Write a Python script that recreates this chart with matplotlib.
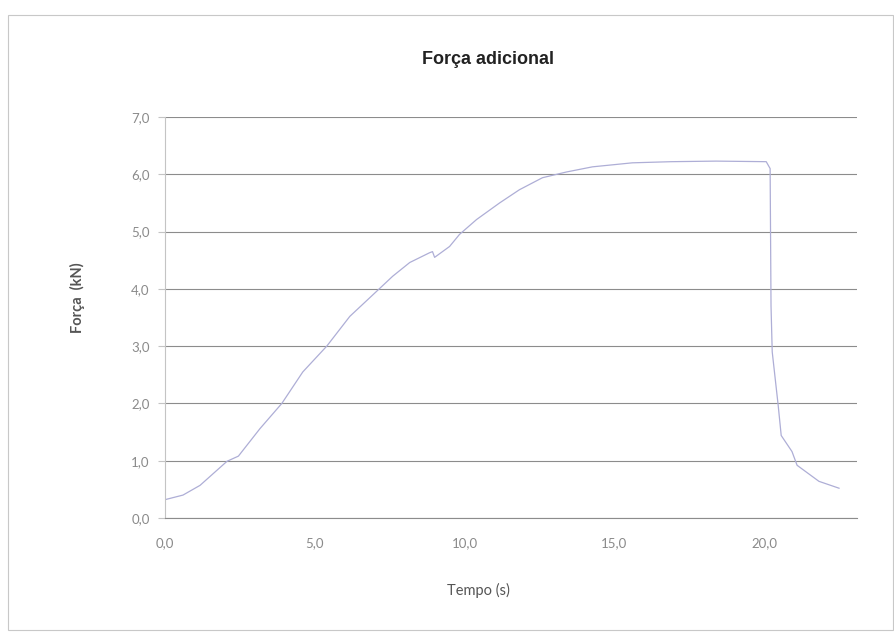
import matplotlib
matplotlib.use("Agg")
import matplotlib.pyplot as plt
from matplotlib.ticker import FuncFormatter
from matplotlib.patches import Rectangle

# Data
tempo_s = [0.0, 0.6, 1.17, 2.07, 2.45, 3.17, 3.9, 4.6, 5.4, 6.17, 7.07, 7.6, 8.17,
           8.83, 8.93, 9.0, 9.5, 9.83, 10.4, 11.17, 11.83, 12.6, 13.4, 14.27, 15.6,
           16.9, 18.4, 20.07, 20.2, 20.23, 20.27, 20.47, 20.57, 20.93, 21.1, 21.83, 22.5]
forca_kN = [0.32, 0.4, 0.57, 0.99, 1.08, 1.56, 2.0, 2.55, 3.0, 3.52, 3.96, 4.22, 4.46,
            4.63, 4.65, 4.55, 4.74, 4.95, 5.21, 5.5, 5.73, 5.94, 6.04, 6.13, 6.2,
            6.22, 6.23, 6.22, 6.1, 3.7, 2.9, 1.96, 1.44, 1.16, 0.92, 0.64, 0.52]
x_ticks = [0, 5, 10, 15, 20]
y_ticks = [0, 1, 2, 3, 4, 5, 6, 7]
titulo = "Força adicional"
x_label = "Tempo (s)"
y_label = "Força  (kN)"

W, H = 895, 636
fig = plt.figure(figsize=(W / 100, H / 100), dpi=100)
fig.patch.set_facecolor("white")

# outer chart border
fig.patches.append(Rectangle((8 / W, 1 - 630 / H), (893 - 8) / W, (630 - 15) / H,
                             transform=fig.transFigure, fill=False,
                             edgecolor="#c8c8c8", linewidth=0.8))

left, right, top, bottom = 165, 857, 117, 518
ax = fig.add_axes([left / W, 1 - bottom / H, (right - left) / W, (bottom - top) / H])
ax.set_xlim(0, 23.1)
ax.set_ylim(0, 7)

ax.plot(tempo_s, forca_kN, color="#aeaed6", linewidth=0.9)

ax.set_xticks(x_ticks)
ax.set_yticks(y_ticks)
fmt = FuncFormatter(lambda v, p: f"{v:.1f}".replace(".", ","))
ax.xaxis.set_major_formatter(fmt)
ax.yaxis.set_major_formatter(fmt)
ax.yaxis.grid(True, color="#8c8c8c", linewidth=0.8)
ax.xaxis.grid(False)
for s in ["top", "right"]:
    ax.spines[s].set_visible(False)
ax.spines["left"].set_color("#c4c4c4")
ax.spines["left"].set_linewidth(0.8)
ax.spines["bottom"].set_color("#8c8c8c")
ax.spines["bottom"].set_linewidth(0.8)
ax.tick_params(axis="y", colors="#c4c4c4", labelcolor="#8a8a8a", length=5,
               width=0.8, pad=6, labelsize=9.5)
ax.tick_params(axis="x", colors="#c4c4c4", labelcolor="#8a8a8a", length=0,
               pad=14, labelsize=9.5)
for lbl in ax.get_xticklabels() + ax.get_yticklabels():
    lbl.set_family("Lato")

fig.text(488 / W, 1 - 60 / H, titulo, ha="center", va="center", fontsize=13,
         fontweight="bold", family="Liberation Sans", color="#222222")
fig.text(478 / W, 1 - 590 / H, x_label, ha="center", va="center", fontsize=10.5,
         family="Lato", color="#555555")
fig.text(77 / W, 1 - 298 / H, y_label, ha="center", va="center", fontsize=10.5,
         family="Lato", fontweight="bold", color="#555555", rotation=90)

fig.savefig("out.png", dpi=100, facecolor="white")
